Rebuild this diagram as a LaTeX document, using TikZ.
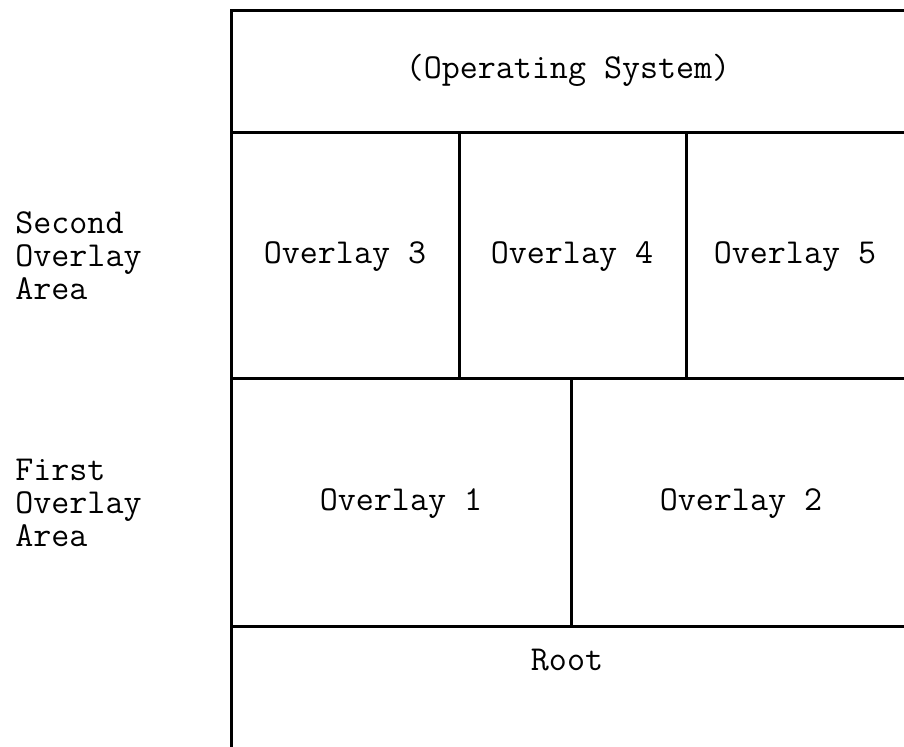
\documentclass[tikz,border=0pt]{standalone}
\usepackage{fontspec}
\begin{document}
\begin{tikzpicture}[x=0.5pt,y=-0.5pt,
  rule/.style={line width=1.5pt,black},
  cell/.style={font=\ttfamily\fontsize{17.5pt}{16.4pt}\selectfont,inner sep=0pt,anchor=mid},
  side/.style={font=\ttfamily\fontsize{17.5pt}{16.4pt}\selectfont,inner sep=0pt,anchor=west,align=left}]
  \useasboundingbox (0,0) rectangle (904,747);
  \clip (0,0) rectangle (904,747);

  % frame corners and row boundaries (frame runs past the right and bottom edges)
  \coordinate (tl) at (231,11);
  \coordinate (br) at (925,775);
  \coordinate (r1l) at (231,133);  \coordinate (r1r) at (925,133);
  \coordinate (r2l) at (231,379);  \coordinate (r2r) at (925,379);
  \coordinate (r3l) at (231,627);  \coordinate (r3r) at (925,627);
  % column dividers
  \coordinate (d1t) at (459,133);  \coordinate (d1b) at (459,379);
  \coordinate (d2t) at (686,133);  \coordinate (d2b) at (686,379);
  \coordinate (d3t) at (571,379);  \coordinate (d3b) at (571,627);

  \draw[rule] (tl) rectangle (br);
  \draw[rule] (r1l) -- (r1r);
  \draw[rule] (r2l) -- (r2r);
  \draw[rule] (r3l) -- (r3r);
  \draw[rule] (d1t) -- (d1b);
  \draw[rule] (d2t) -- (d2b);
  \draw[rule] (d3t) -- (d3b);

  % cell labels
  \node[cell] (os)  at (568,74)  {(Operating System)};
  \node[cell] (ov3) at (345,259) {Overlay 3};
  \node[cell] (ov4) at (572,259) {Overlay 4};
  \node[cell] (ov5) at (795,259) {Overlay 5};
  \node[cell] (ov1) at (401,506) {Overlay 1};
  \node[cell] (ov2) at (741,506) {Overlay 2};
  \node[cell] (root) at (567,666) {Root};

  % area labels at the left
  \node[side] (second) at (15,256) {Second\\Overlay\\Area};
  \node[side] (first)  at (15,503) {First\\Overlay\\Area};
\end{tikzpicture}
\end{document}
